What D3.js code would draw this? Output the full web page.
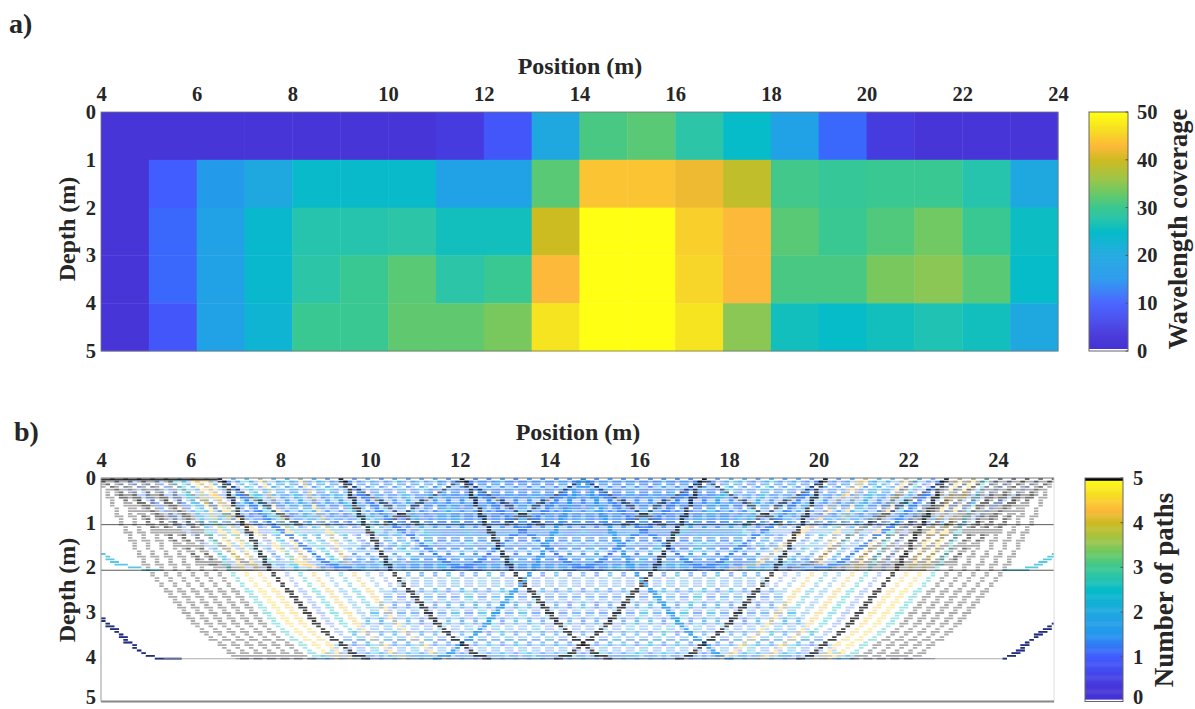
<!DOCTYPE html>
<html><head><meta charset="utf-8">
<script src="https://cdnjs.cloudflare.com/ajax/libs/d3/7.8.5/d3.min.js"></script>
<style>
html,body{margin:0;padding:0;background:#fff;overflow:hidden}
text{font-family:"Liberation Serif",serif;font-weight:bold;fill:#262626}
</style></head><body><svg id="c" width="1195" height="709"></svg>
<script>
// ---------- panel a data ----------
const columnStarts = [4,5,6,7,8,9,10,11,12,13,14,15,16,17,18,19,20,21,22,23];
const coverageRow0 = [3,3,3,3,2.5,2.5,3,4,9,20,31,32,28,25,18,11,4,3,3,3];
const coverageRow1 = [3,10,16,20,24.5,24.5,24.5,18,18,32,44,44,42,39,30.5,29.5,30,30,27.5,20];
const coverageRow2 = [3,11,18,24,27.5,27.5,28,26,26,40,50,50,45,43,32,30,31.5,33.5,30,25.5];
const coverageRow3 = [3,11,18,24,28,30,32,28,30,43,50,50,45.5,43,31,31,34,35,32,25];
const coverageRow4 = [3,9,18,23,30,30,32.5,32.5,34,47,50,50,47,35,26,25,26,27,26,20];
const coverageRows = [coverageRow0,coverageRow1,coverageRow2,coverageRow3,coverageRow4];

// ---------- panel b data (metres) ----------
const sources = [3.95,4.25,4.55,4.85,5.15,5.45,5.75,6.05,6.35,6.65,6.95,7.25,7.55,7.85,8.15,8.45,8.75,9.05,9.35,9.65,9.95,10.25,10.55,10.85,11.15,11.45,11.75,12.05,12.35,12.65,12.95,13.25,13.55,13.85,14.15,14.45,14.75,15.05,15.35,15.65,15.95,16.25,16.55,16.85,17.15,17.45,17.75,18.05,18.35,18.65,18.95,19.25,19.55,19.85,20.15,20.45,20.75,21.05,21.35,21.65,21.95,22.25,22.55,22.85,23.15,23.45,23.75,24.05,24.35,24.65,24.95,25.25];
// ray shapes: offset from source vs depth
const deepZ = [0,0.1,0.5,1.05,2,3.3,3.93,4.03];
const deepDx = [0,0.1,0.28,0.56,1.09,2.2,3,3.3];
const midZ = [0,0.1,0.94,1.9,2.05];
const midDx = [0,0.2,1.09,2.4,3.1];
const shallowZ = [0,0.76,1.03];
const shallowDx = [0,1.29,1.75];
// number of paths along each ray (index follows sources)
const deepRightValues = [5,5,5,5,5,5,2.6,4.5,4.4,5.2,1.2,2.5,4.2,1.5,2.2,4.2,1.5,1.2,5.2,1.4,2,1.2,2.5,1.3,1.5,2.2,1.2,5.2,1.3,1.2,1.7,1.2,1.5,1.3,1.8,1.2,1.3,1.5,1.2,1.8,1.3,1.2,1.6,1.3,1.2,1.5];
const deepLeftValues  = [1.5,1.2,1.3,1.6,1.2,1.3,1.8,1.2,1.5,1.3,1.2,1.8,1.3,1.5,1.2,1.7,1.2,1.3,5.2,1.2,2.2,1.5,1.3,2.5,1.2,2,1.4,5.2,1.2,1.5,4.2,2.2,1.5,4.2,2.5,1.2,5.2,4.4,4.5,2.6,5,5,5,5,5];
const midValues = [5,5,1.2,5,1.3,2.2,1.4,4.3,1.2,1.3,2.3,1.2,1.5,2.1,1.3,1.2,2.4,1.5,1.3,1.2,1.5,1.3,1.2,2.2,1.3,1.5,1.2,1.3,1.2,1.6,1.5,1.2,1.3,1.2,1.5,1.4,1.3,1.2,1.4,1.5,1.2,1.3,1.2,1.5,1.6,1.2,1.3,1.2,2.4,1.2,1.3,2.1,1.5,1.2,2.3,1.3,1.2,4.3,1.4,2.2,1.3,5,1.2,5,5,5,5,5,5,5,5,5];
const shallowValues = [5,1.3,5,1.2,1.2,5,1.4,1.2,2.2,1.3,1.2,1.5,1.3,1.2,1.4,2.1,1.5,1.2,1.3,1.2,1.2,1.5,1.3,1.3,1.2,1.4,1.5,1.2,1.3,1.2,1.5,1.3,1.2,1.3,1.4,1.2,1.3,1.2,1.3,1.4,1.2,1.5,1.2,1.3,1.2,1.4,1.5,1.3,1.2,1.3,1.2,1.5,1.2,1.4,1.3,1.2,1.5,2.1,1.4,1.2,1.3,1.5,1.2,1.3,2.2,1.2,1.4,5,1.2,1.2,5,1.3];
// strongest rays
const deepDarkRight = [6.65,9.35,12.05];
const deepDarkLeft = [22.85,20.15,17.45];
const deepBlueCentre = [14.75];
const midStrongRight = [6.65,9.35,12.05,14.75];
const midStrongLeft = [14.75,17.45,20.15,22.85];
const shallowDarkRight = [6.65,9.35,12.05,14.75,17.45];
const shallowDarkLeft = [12.05,14.75,17.45,20.15,22.85];
// edge rays entering from outside the frame
const edgeDeepLeftX = [4,4.5,5,5.35,5.8];
const edgeDeepLeftZ = [3.12,3.55,3.95,4.02,4.03];
const edgeDeepRightX = [25.25,24.8,24.38,24.1];
const edgeDeepRightZ = [3.24,3.55,3.92,4.02];
const edgeMidLeftX = [4,4.35,5,5.3];
const edgeMidLeftZ = [1.65,1.9,2.03,2.05];
const edgeMidRightX = [25.25,24.8,24.5,24.2];
const edgeMidRightZ = [1.7,1.98,2.04,2.05];
const layerDepths = [1.03,2.05];
const floorDepth = 4.03;

// ---------- tick labels ----------
const xTicksA = [4,6,8,10,12,14,16,18,20,22,24];
const xTicksB = [4,6,8,10,12,14,16,18,20,22,24];
const depthTicks = [0,1,2,3,4,5];
const barTicksA = [0,10,20,30,40,50];
const barTicksB = [0,1,2,3,4,5];

// ---------- colours ----------
const cmapPos = [0,0.06,0.2,0.3,0.4,0.5,0.56,0.6,0.66,0.72,0.8,0.86,0.93,1];
const cmapCol = ["#4432d4","#4735d8","#415cff","#2596ee","#1fa8e0","#05bcc8","#2cc5a8","#3ac892","#68c968","#9cc64a","#cdbb22","#fdb93a","#f6e022","#ffff14"];
const cmap = d3.scaleLinear().domain(cmapPos).range(cmapCol).clamp(true);
const pathColor = v => v >= 4.95 ? "#000" : cmap(v/5);

const svg = d3.select("#c");
const xA = d3.scaleLinear().domain([4,24]).range([101,1058]);
const yA = d3.scaleLinear().domain([0,5]).range([112,351]);
const xB = d3.scaleLinear().domain([4,24]).range([101,998]);
const yB = d3.scaleLinear().domain([0,5]).range([478,701.5]);
const barA = d3.scaleLinear().domain([0,50]).range([351,112]);
const barB = d3.scaleLinear().domain([0,5]).range([701.5,478]);
const rightB = 25.25;

svg.append("text").attr("x",9).attr("y",33).style("font-size","28px").text("a)");
svg.append("text").attr("x",14).attr("y",441).style("font-size","28px").text("b)");

// Panel a
const a = svg.append("g");
coverageRows.forEach((row,r)=>{
  a.append("g").selectAll("rect").data(row).join("rect")
   .attr("x",(d,i)=>xA(columnStarts[i]))
   .attr("y",yA(r))
   .attr("width",(d,i)=>xA(columnStarts[i]+1)-xA(columnStarts[i])+0.4)
   .attr("height",yA(r+1)-yA(r)+0.4)
   .attr("fill",d=>cmap(d/50));
});
a.append("rect").attr("x",101).attr("y",112).attr("width",957).attr("height",239).attr("fill","none").attr("stroke","#777").attr("stroke-width",0.8);

const tickFont = 20.5;
function tickStyle(g,size){
  g.select(".domain").remove();
  g.selectAll(".tick line").remove();
  g.selectAll("text").style("font-size",size+"px").attr("fill","#262626");
}
// keeps the lowest label inside the window
function liftLast(g){ g.selectAll(".tick").filter(d=>d===5).select("text").attr("dy","0.12em"); }
svg.append("g").attr("transform","translate(0,101)").call(d3.axisTop(xA).tickValues(xTicksA).tickSize(0).tickPadding(0).tickFormat(d3.format("d"))).call(tickStyle,tickFont);
svg.append("g").attr("transform","translate(96,0)").call(d3.axisLeft(yA).tickValues(depthTicks).tickSize(0).tickPadding(0).tickFormat(d3.format("d"))).call(tickStyle,tickFont);
svg.append("text").attr("x",580).attr("y",74).attr("text-anchor","middle").style("font-size","24px").text("Position (m)");
svg.append("text").attr("transform","translate(75,229) rotate(-90)").attr("text-anchor","middle").style("font-size","24px").text("Depth (m)");

// Colour bars
function colorBar(scale,max,x0,x1,ticks,labelX,whiteTo,blackFrom){
  const g = svg.append("g");
  const steps = d3.range(0,240);
  const top = scale(max), bot = scale(0);
  g.selectAll("rect.s").data(steps).join("rect").attr("class","s")
    .attr("x",x0).attr("width",x1-x0)
    .attr("y",i=>top+(bot-top)*i/240).attr("height",(bot-top)/240+0.5)
    .attr("fill",i=>{
      const v = max*(1-i/240);
      if(v<whiteTo) return "#fff";
      if(blackFrom!==null && v>=blackFrom) return "#000";
      return cmap(v/max);
    });
  g.append("rect").attr("x",x0).attr("y",top).attr("width",x1-x0).attr("height",bot-top).attr("fill","none").attr("stroke","#666").attr("stroke-width",1);
  g.selectAll("line").data(ticks).join("line").attr("x1",x1-2.5).attr("x2",x1).attr("y1",d=>scale(d)).attr("y2",d=>scale(d)).attr("stroke","#555");
  return svg.append("g").attr("transform",`translate(${labelX},0)`).call(d3.axisRight(scale).tickValues(ticks).tickSize(0).tickPadding(0).tickFormat(d3.format("d"))).call(tickStyle,tickFont);
}
colorBar(barA,50,1089,1128,barTicksA,1137,0.6,null);
colorBar(barB,5,1085,1123,barTicksB,1133,0.06,4.95).selectAll(".tick").filter(d=>d===0).select("text").attr("dy","0.12em");
svg.append("text").attr("transform","translate(1187,229) rotate(-90)").attr("text-anchor","middle").style("font-size","26.5px").text("Wavelength coverage");
svg.append("text").attr("transform","translate(1173,590) rotate(-90)").attr("text-anchor","middle").style("font-size","27px").text("Number of paths");

// Panel b
svg.append("defs").append("clipPath").attr("id","pb").append("rect").attr("x",xB(4)).attr("y",yB(0)).attr("width",xB(rightB)-xB(4)).attr("height",yB(5)-yB(0));
const b = svg.append("g").attr("clip-path","url(#pb)");
const marks = b.append("g").style("filter","blur(0.45px)");

const cellW = 0.1, cellH = 0.06;
function dashPath(xs,zs){
  // rasterises a polyline onto the model grid: one dash per cell it crosses
  const rowH = yB(cellH)-yB(0), colW = xB(cellW)-xB(0), dashH = rowH*0.68;
  const seen = new Set();
  let d = "";
  for(let s=0;s<xs.length-1;s++){
    const n = Math.ceil(Math.max(Math.abs(xs[s+1]-xs[s])/cellW,Math.abs(zs[s+1]-zs[s])/cellH)*2)+1;
    for(let k=0;k<=n;k++){
      const col = Math.floor((xs[s]+(xs[s+1]-xs[s])*k/n)/cellW);
      const row = Math.round((zs[s]+(zs[s+1]-zs[s])*k/n)/cellH);
      const key = col+"_"+row;
      if(seen.has(key)) continue;
      seen.add(key);
      d += `M${xB(col*cellW).toFixed(1)} ${yB(row*cellH).toFixed(1)}h${colW.toFixed(2)}v${dashH.toFixed(2)}h${(-colW).toFixed(2)}z`;
    }
  }
  return d;
}
function addRay(src,dir,zs,dxs,value,alpha){
  const xs = dxs.map(d=>src+dir*d);
  marks.append("path").attr("d",dashPath(xs,zs)).attr("fill",pathColor(value)).attr("fill-opacity",alpha);
}
const softAlpha = v => v>=4.95 ? 0.33 : (v<2 ? 0.34 : 0.4);
// pale families
sources.forEach((s,i)=>{
  if(i<=57 && !shallowDarkRight.includes(s)) addRay(s,1,shallowZ,shallowDx,shallowValues[i],softAlpha(shallowValues[i]));
  if(i>=14 && !shallowDarkLeft.includes(s)) addRay(s,-1,shallowZ,shallowDx,shallowValues[71-i],softAlpha(shallowValues[71-i]));
  if(i<=45 && !midStrongRight.includes(s)) addRay(s,1,midZ,midDx,midValues[i],softAlpha(midValues[i]));
  if(i>=26 && !midStrongLeft.includes(s)) addRay(s,-1,midZ,midDx,midValues[i],softAlpha(midValues[i]));
  if(i<deepRightValues.length && deepRightValues[i]<=5) addRay(s,1,deepZ,deepDx,deepRightValues[i],softAlpha(deepRightValues[i]));
  if(i>=27 && deepLeftValues[i-27]<=5) addRay(s,-1,deepZ,deepDx,deepLeftValues[i-27],softAlpha(deepLeftValues[i-27]));
});
// strong rays
midStrongRight.forEach(s=>addRay(s,1,midZ,midDx,1.25,0.85));
midStrongLeft.forEach(s=>addRay(s,-1,midZ,midDx,1.25,0.85));
shallowDarkRight.forEach(s=>addRay(s,1,shallowZ,shallowDx,5.2,0.5));
shallowDarkLeft.forEach(s=>addRay(s,-1,shallowZ,shallowDx,5.2,0.5));
deepBlueCentre.forEach(s=>{addRay(s,1,deepZ,deepDx,1.6,0.8);addRay(s,-1,deepZ,deepDx,1.6,0.8);});
deepDarkRight.forEach(s=>addRay(s,1,deepZ,deepDx,5.2,0.72));
deepDarkLeft.forEach(s=>addRay(s,-1,deepZ,deepDx,5.2,0.72));
// edge rays
const edge = (xs,zs,v,al)=>marks.append("path").attr("d",dashPath(xs,zs)).attr("fill",pathColor(v)).attr("fill-opacity",al);
edge(edgeDeepLeftX,edgeDeepLeftZ,1,0.9);
edge(edgeDeepLeftX,edgeDeepLeftZ,5.2,0.55);
edge(edgeDeepRightX,edgeDeepRightZ,1,0.9);
edge(edgeDeepRightX,edgeDeepRightZ,5.2,0.55);
edge(edgeMidLeftX,edgeMidLeftZ,2.2,0.7);
edge(edgeMidRightX,edgeMidRightZ,2.2,0.7);
// layer lines
const hline = (x0,x1,z,col,w,op)=>b.append("line").attr("x1",xB(x0)).attr("x2",xB(x1)).attr("y1",yB(z)+0.6).attr("y2",yB(z)+0.6).attr("stroke",col).attr("stroke-width",w).attr("stroke-opacity",op);
layerDepths.forEach(z=>hline(4,rightB,z,"#222",1,0.75));
hline(5.4,7,floorDepth,"#999",1,0.8);
hline(7,22.6,floorDepth,"#2a3050",1.1,0.7);
hline(22.6,24.1,floorDepth,"#999",1,0.8);
hline(4,6.6,0.02,"#111",1.8,0.85);
// frame
const fx0 = xB(4), fx1 = xB(rightB), fy0 = yB(0), fy1 = yB(5);
svg.append("line").attr("x1",fx0).attr("x2",fx1).attr("y1",fy0).attr("y2",fy0).attr("stroke","#777").attr("stroke-width",1);
svg.append("line").attr("x1",fx0).attr("x2",fx0).attr("y1",fy0).attr("y2",fy1).attr("stroke","#999").attr("stroke-width",1);
svg.append("line").attr("x1",fx1).attr("x2",fx1).attr("y1",fy0).attr("y2",fy1).attr("stroke","#ddd").attr("stroke-width",1);
svg.append("line").attr("x1",fx0).attr("x2",fx1).attr("y1",fy1).attr("y2",fy1).attr("stroke","#888").attr("stroke-width",2);

svg.append("g").attr("transform","translate(0,467)").call(d3.axisTop(xB).tickValues(xTicksB).tickSize(0).tickPadding(0).tickFormat(d3.format("d"))).call(tickStyle,tickFont);
svg.append("g").attr("transform","translate(96,0)").call(d3.axisLeft(yB).tickValues(depthTicks).tickSize(0).tickPadding(0).tickFormat(d3.format("d"))).call(tickStyle,tickFont).call(liftLast);
svg.append("text").attr("x",578).attr("y",440).attr("text-anchor","middle").style("font-size","24px").text("Position (m)");
svg.append("text").attr("transform","translate(75,590) rotate(-90)").attr("text-anchor","middle").style("font-size","24px").text("Depth (m)");
</script></body></html>
